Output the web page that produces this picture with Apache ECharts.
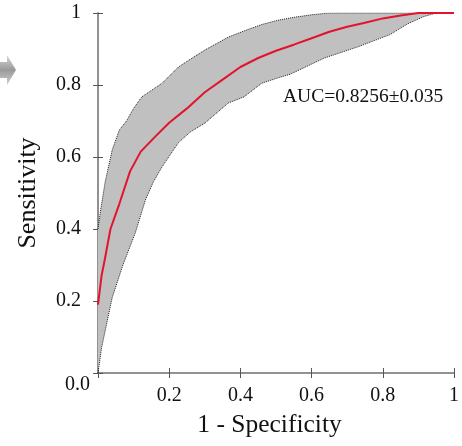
<!DOCTYPE html>
<html>
<head>
<meta charset="utf-8">
<script src="https://cdn.jsdelivr.net/npm/echarts@6/dist/echarts.min.js"></script>
<style>html,body{margin:0;padding:0;background:#fff}#c{width:462px;height:446px}</style>
</head>
<body>
<div id="c"></div>
<script>
// Mean ROC curve
var meanX = [0, 0.01, 0.02, 0.035, 0.06, 0.09, 0.12, 0.16, 0.2, 0.25, 0.3, 0.35, 0.4, 0.45, 0.5, 0.55, 0.6, 0.65, 0.7, 0.75, 0.8, 0.85, 0.9, 0.95, 1];
var meanY = [0.19, 0.27, 0.32, 0.40, 0.47, 0.56, 0.615, 0.656, 0.695, 0.735, 0.78, 0.815, 0.85, 0.875, 0.895, 0.912, 0.93, 0.948, 0.962, 0.973, 0.985, 0.993, 1.0, 1.0, 1.0];
// Upper boundary of the band
var upperX = [0, 0.007, 0.02, 0.04, 0.06, 0.08, 0.1, 0.123, 0.15, 0.18, 0.226, 0.26, 0.3, 0.366, 0.41, 0.46, 0.506, 0.55, 0.6, 0.65, 1];
var upperY = [0.40, 0.45, 0.53, 0.62, 0.675, 0.70, 0.735, 0.767, 0.785, 0.805, 0.85, 0.872, 0.897, 0.933, 0.95, 0.968, 0.98, 0.988, 0.995, 1.0, 1.0];
// Lower boundary of the band
var lowerX = [0, 0.01, 0.04, 0.07, 0.105, 0.133, 0.155, 0.18, 0.226, 0.26, 0.3, 0.366, 0.41, 0.46, 0.506, 0.54, 0.636, 0.73, 0.82, 0.87, 0.915, 0.95, 1];
var lowerY = [0, 0.07, 0.21, 0.30, 0.39, 0.48, 0.53, 0.573, 0.64, 0.67, 0.694, 0.75, 0.767, 0.805, 0.82, 0.83, 0.875, 0.906, 0.94, 0.97, 0.99, 1.0, 1.0];
// Tick values
var ticks = [0, 0.2, 0.4, 0.6, 0.8, 1];
var aucText = 'AUC=0.8256\u00b10.035';
var xName = '1 - Specificity';
var yName = 'Sensitivity';

function zip(a, b) { return a.map(function (v, i) { return [v, b[i]]; }); }

var serif = "'Liberation Serif', 'Times New Roman', serif";
var chart = echarts.init(document.getElementById('c'));

function fmtY(v) {
  if (Math.abs(v) < 1e-9) return '{lo|0.0}';
  if (Math.abs(v - 1) < 1e-9) return '{n|1}';
  return '{n|' + v.toFixed(1) + '}';
}
function fmtX(v) {
  if (Math.abs(v) < 1e-9) return '';
  if (Math.abs(v - 1) < 1e-9) return '1';
  return v.toFixed(1);
}

var tickStyle = { show: true, inside: true, length: 5, lineStyle: { color: '#555', width: 1 } };
var lineStyleAx = { show: true, lineStyle: { color: '#8a8a8a', width: 1.5 } };

var option = {
  animation: false,
  backgroundColor: '#fff',
  grid: { left: 98, right: 4, top: 13, bottom: 73, containLabel: false },
  xAxis: [{
    type: 'value', min: 0, max: 1, interval: 0.2, position: 'bottom',
    name: xName, nameLocation: 'middle', nameGap: 39,
    nameTextStyle: { fontFamily: serif, fontSize: 25.5, color: '#111', padding: [0, 13, 0, 0] },
    axisLine: lineStyleAx, axisTick: tickStyle,
    axisLabel: { formatter: fmtX, fontFamily: serif, fontSize: 20, color: '#111', margin: 13, showMinLabel: true, showMaxLabel: true },
    splitLine: { show: false }
  }, {
    type: 'value', min: 0, max: 1, interval: 0.2, position: 'top',
    axisLine: lineStyleAx, axisTick: tickStyle, axisLabel: { show: false }, splitLine: { show: false }
  }],
  yAxis: [{
    type: 'value', min: 0, max: 1, interval: 0.2, position: 'left',
    name: yName, nameLocation: 'middle', nameGap: 57,
    nameTextStyle: { fontFamily: serif, fontSize: 26, color: '#111' },
    axisLine: lineStyleAx, axisTick: tickStyle,
    axisLabel: {
      formatter: fmtY, fontFamily: serif, fontSize: 20, color: '#111', margin: 8,
      rich: {
        n: { fontFamily: serif, fontSize: 20, color: '#111', padding: [0, 9, 0, 0] },
        lo: { fontFamily: serif, fontSize: 20, color: '#111', padding: [24, 0, 0, 0] }
      }
    },
    splitLine: { show: false }
  }, {
    type: 'value', min: 0, max: 1, interval: 0.2, position: 'right',
    axisLine: lineStyleAx, axisTick: tickStyle, axisLabel: { show: false }, splitLine: { show: false }
  }],
  graphic: [{
    type: 'text', left: 283, top: 87, z: 10,
    style: { text: aucText, font: '19.5px ' + serif, fill: '#111' }
  }, {
    type: 'polygon', z: 1,
    shape: { points: [[0, 62], [7, 62], [7, 55], [16, 70], [7, 85], [7, 78], [0, 78]] },
    style: {
      fill: new echarts.graphic.LinearGradient(0, 0, 0, 1, [
        { offset: 0, color: '#d8d8d8' }, { offset: 0.5, color: '#9a9a9a' }, { offset: 1, color: '#d0d0d0' }
      ])
    }
  }],
  series: [{
    type: 'custom',
    coordinateSystem: 'cartesian2d',
    data: [[0, 0]],
    silent: true,
    z: 1,
    renderItem: function (params, api) {
      var pts = [];
      for (var i = 0; i < upperX.length; i++) pts.push(api.coord([upperX[i], upperY[i]]));
      for (var j = lowerX.length - 1; j >= 0; j--) pts.push(api.coord([lowerX[j], lowerY[j]]));
      return { type: 'polygon', shape: { points: pts }, style: { fill: '#c0c0c0', stroke: null } };
    }
  }, {
    type: 'line', data: zip(upperX, upperY), showSymbol: false, symbol: 'none', z: 2,
    lineStyle: { color: '#222', width: 1, type: 'dotted' }
  }, {
    type: 'line', data: zip(lowerX, lowerY), showSymbol: false, symbol: 'none', z: 2,
    lineStyle: { color: '#222', width: 1, type: 'dotted' }
  }, {
    type: 'line', data: zip(meanX, meanY), showSymbol: false, symbol: 'none', z: 3,
    lineStyle: { color: '#e3132e', width: 2 }
  }]
};
chart.setOption(option);
</script>
</body>
</html>
